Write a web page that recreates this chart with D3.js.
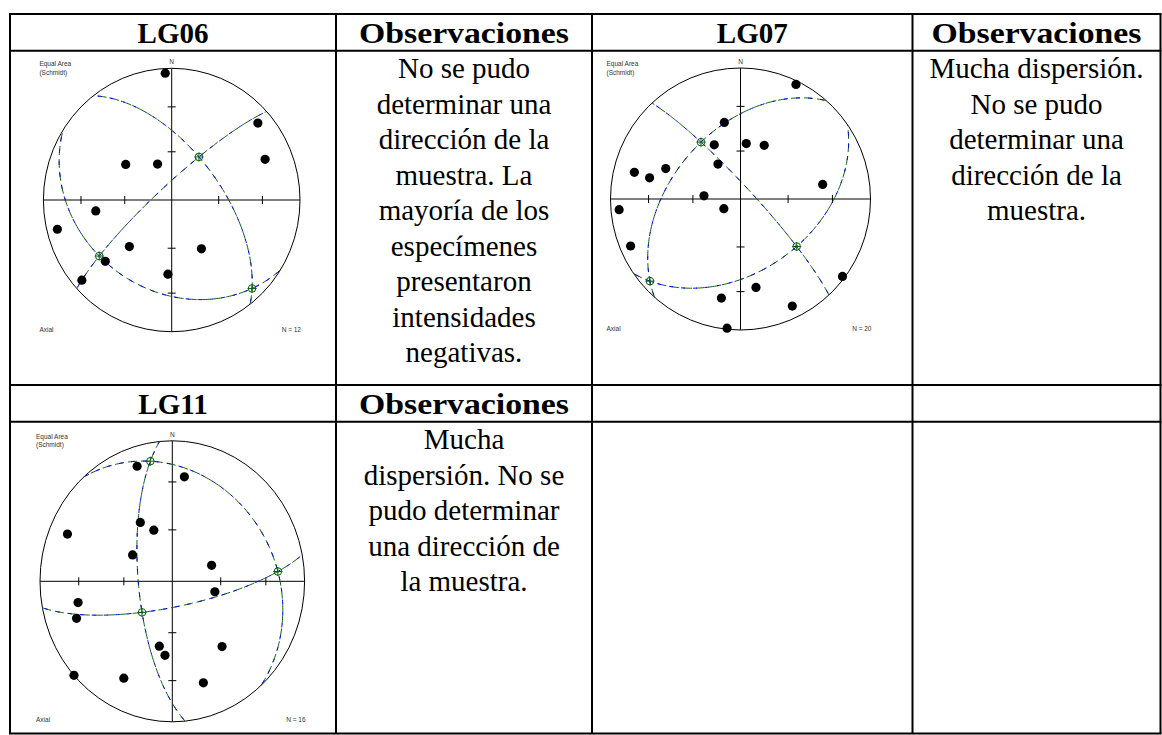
<!DOCTYPE html>
<html>
<head>
<meta charset="utf-8">
<script src="https://cdn.jsdelivr.net/npm/d3@7"></script>
<style>
  html, body { margin: 0; padding: 0; background: #fff; }
  svg { display: block; }
  .cell-text { font-family: "Liberation Serif", "Times New Roman", serif; fill: #000; }
  .net-label { font-family: "Liberation Sans", Arial, sans-serif; font-size: 6.5px; fill: #333; }
</style>
</head>
<body>
<svg id="chart" width="1162" height="735"></svg>
<script>
/* Data (trend, plunge in degrees, lower hemisphere) */
const sampleNames = ["LG06", "LG07", "LG11"];
const sampleN = [12, 20, 16];
const columnTitle = "Observaciones";
const tickPlunges = [30, 60];

const lg06Poles = [[357, 4], [49, 12], [67, 22], [307, 53], [338, 66], [262, 40],
	[256, 9], [223, 50], [148, 54], [228, 31], [183, 43], [229, 8]];
const lg06Axes = [[33, 58], [233, 30], [137, 9]];

const lg07Poles = [[26, 3], [348, 40], [334, 52], [6, 55], [24, 53], [284, 17], [283, 29],
	[292, 38], [327, 64], [80, 36], [275, 67], [265, 7], [240, 78], [247, 9], [127, 2],
	[170, 32], [191, 24], [154, 10], [186, 1]];
const lg07Axes = [[325, 46], [130, 43], [228, 7]];

const lg11Poles = [[342, 15], [7, 26], [293, 15], [330, 50], [339, 58], [302, 61], [69, 64],
	[103, 63], [258, 28], [250, 24], [192, 51], [186, 46], [141, 40], [228, 0], [208, 23], [162, 25]];
const lg11Axes = [[349, 14], [85, 21], [226, 64]];

const lg06Notes = ["No se pudo", "determinar una", "dirección de la", "muestra. La",
	"mayoría de los", "especímenes", "presentaron", "intensidades", "negativas."];
const lg07Notes = ["Mucha dispersión.", "No se pudo", "determinar una", "dirección de la", "muestra."];
const lg11Notes = ["Mucha", "dispersión. No se", "pudo determinar", "una dirección de", "la muestra."];

/* Layout */
const rowLines = [14, 50.7, 385, 421.7, 733.5];
const colLines = [10, 336, 592, 912.5, 1160.5];
const fontSize = 29;
const lineStep = 35.5;
const blocks = [
	{ headY: 42.5, bodyY: 78 },
	{ headY: 413.5, bodyY: 449 }
];
const samples = [
	{ block: 0, col: 0, poles: lg06Poles, axes: lg06Axes, notes: lg06Notes, net: { cx: 171.7, cy: 200, rx: 128.3, ry: 131.7 } },
	{ block: 0, col: 2, poles: lg07Poles, axes: lg07Axes, notes: lg07Notes, net: { cx: 740.5, cy: 199, rx: 130, ry: 131 } },
	{ block: 1, col: 0, poles: lg11Poles, axes: lg11Axes, notes: lg11Notes, net: { cx: 172.3, cy: 581.3, rx: 132.3, ry: 140.5 } }
];
const green = "#0b5e12";
const blue = "#0000ff";

const svg = d3.select("#chart");
const rad = Math.PI / 180;

// vector helpers (east, north, down)
function toVec(d) {
	let tr = d[0] * rad, pl = d[1] * rad;
	return [Math.cos(pl) * Math.sin(tr), Math.cos(pl) * Math.cos(tr), Math.sin(pl)];
}
function cross(a, b) {
	return [a[1] * b[2] - a[2] * b[1], a[2] * b[0] - a[0] * b[2], a[0] * b[1] - a[1] * b[0]];
}
function unit(a) {
	let l = Math.hypot(a[0], a[1], a[2]);
	return a.map(v => v / l);
}
// Lambert equal-area, lower hemisphere, unit primitive
function project(v) {
	let x = v[0], y = v[1], z = v[2];
	if (z < 0) { x = -x; y = -y; z = -z; }
	let k = 1 / Math.sqrt(1 + z);
	return [x * k, y * k];
}
function greatCircle(a, b) {
	let n = unit(cross(a, b));
	let s = unit([n[1], -n[0], 0]);
	let d = cross(n, s);
	if (d[2] < 0) d = d.map(v => -v);
	return d3.range(0, 181).map(function(t) {
		let c = Math.cos(t * rad), si = Math.sin(t * rad);
		return project([c * s[0] + si * d[0], c * s[1] + si * d[1], c * s[2] + si * d[2]]);
	});
}

/* Stereonets */
samples.forEach(function(sample, i) {
	let net = sample.net;
	let x = d3.scaleLinear().domain([-1, 1]).range([net.cx - net.rx, net.cx + net.rx]);
	let y = d3.scaleLinear().domain([-1, 1]).range([net.cy + net.ry, net.cy - net.ry]);
	let g = svg.append("g").attr("class", "net");

	g.append("ellipse")
		.attr("cx", x(0)).attr("cy", y(0))
		.attr("rx", x(1) - x(0)).attr("ry", y(-1) - y(0))
		.attr("fill", "none").attr("stroke", "#000").attr("stroke-width", 1);

	g.append("line").attr("x1", x(-1)).attr("x2", x(1)).attr("y1", y(0)).attr("y2", y(0))
		.attr("stroke", "#000").attr("stroke-width", 1);
	g.append("line").attr("x1", x(0)).attr("x2", x(0)).attr("y1", y(1)).attr("y2", y(-1))
		.attr("stroke", "#000").attr("stroke-width", 1);

	let tickR = [];
	tickPlunges.forEach(function(p) {
		let r = Math.sqrt(1 - Math.sin(p * rad));
		tickR.push(r, -r);
	});
	g.selectAll(".xtick").data(tickR).enter().append("line")
		.attr("x1", d => x(d)).attr("x2", d => x(d))
		.attr("y1", y(0) - 4).attr("y2", y(0) + 4)
		.attr("stroke", "#000").attr("stroke-width", 1);
	g.selectAll(".ytick").data(tickR).enter().append("line")
		.attr("y1", d => y(d)).attr("y2", d => y(d))
		.attr("x1", x(0) - 4).attr("x2", x(0) + 4)
		.attr("stroke", "#000").attr("stroke-width", 1);

	// great circles through each pair of principal axes
	let axesVec = sample.axes.map(toVec);
	let pairs = [[0, 1], [0, 2], [1, 2]];
	let line = d3.line().x(d => x(d[0])).y(d => y(d[1]));
	pairs.forEach(function(p) {
		let pts = greatCircle(axesVec[p[0]], axesVec[p[1]]);
		g.append("path").attr("d", line(pts)).attr("fill", "none")
			.attr("stroke", green).attr("stroke-width", 1).attr("stroke-dasharray", "9 4");
		g.append("path").attr("d", line(pts)).attr("fill", "none")
			.attr("stroke", blue).attr("stroke-width", 1).attr("stroke-dasharray", "4 8")
			.attr("stroke-dashoffset", -2);
	});

	// poles
	g.selectAll(".pole").data(sample.poles).enter().append("circle")
		.attr("class", "pole")
		.attr("cx", d => x(project(toVec(d))[0]))
		.attr("cy", d => y(project(toVec(d))[1]))
		.attr("r", 4.6).attr("fill", "#000");

	// principal axes markers
	let marks = g.selectAll(".axis-mark").data(sample.axes).enter().append("g")
		.attr("class", "axis-mark")
		.attr("transform", d => "translate(" + x(project(toVec(d))[0]) + "," + y(project(toVec(d))[1]) + ")");
	marks.append("circle").attr("r", 3.8).attr("fill", "none").attr("stroke", green).attr("stroke-width", 1);
	marks.append("path").attr("d", "M-4.5,0H4.5M0,-4.5V4.5").attr("stroke", green).attr("stroke-width", 1);

	// labels
	let left = x(-1), right = x(1), top = y(1), bottom = y(-1);
	g.append("text").attr("class", "net-label").attr("x", left - 4).attr("y", top - 2).text("Equal Area");
	g.append("text").attr("class", "net-label").attr("x", left - 4).attr("y", top + 6.5).text("(Schmidt)");
	g.append("text").attr("class", "net-label").attr("x", x(0)).attr("y", top - 4)
		.attr("text-anchor", "middle").text("N");
	g.append("text").attr("class", "net-label").attr("x", left - 4).attr("y", bottom + 0.5).text("Axial");
	g.append("text").attr("class", "net-label").attr("x", right + 1).attr("y", bottom + 0.5)
		.attr("text-anchor", "end").text("N = " + sampleN[i]);
});

/* Table text */
function colCenter(c) { return (colLines[c] + colLines[c + 1]) / 2; }

samples.forEach(function(sample, i) {
	let b = blocks[sample.block];
	svg.append("text").attr("class", "cell-text")
		.attr("x", colCenter(sample.col)).attr("y", b.headY)
		.attr("text-anchor", "middle").attr("font-size", fontSize).attr("font-weight", "bold")
		.text(sampleNames[i]);
	svg.append("text").attr("class", "cell-text")
		.attr("x", colCenter(sample.col + 1)).attr("y", b.headY)
		.attr("text-anchor", "middle").attr("font-size", fontSize).attr("font-weight", "bold")
		.attr("textLength", 210).attr("lengthAdjust", "spacingAndGlyphs")
		.text(columnTitle);
	svg.selectAll(null).data(sample.notes).enter().append("text")
		.attr("class", "cell-text")
		.attr("x", colCenter(sample.col + 1))
		.attr("y", (d, k) => b.bodyY + k * lineStep)
		.attr("text-anchor", "middle").attr("font-size", fontSize)
		.text(d => d);
});

/* Table grid */
let grid = svg.append("g").attr("stroke", "#000").attr("stroke-width", 2);
rowLines.forEach(function(ry) {
	grid.append("line").attr("x1", colLines[0] - 1).attr("x2", colLines[colLines.length - 1] + 1)
		.attr("y1", ry).attr("y2", ry);
});
colLines.forEach(function(cx) {
	grid.append("line").attr("x1", cx).attr("x2", cx)
		.attr("y1", rowLines[0]).attr("y2", rowLines[rowLines.length - 1]);
});
</script>
</body>
</html>
